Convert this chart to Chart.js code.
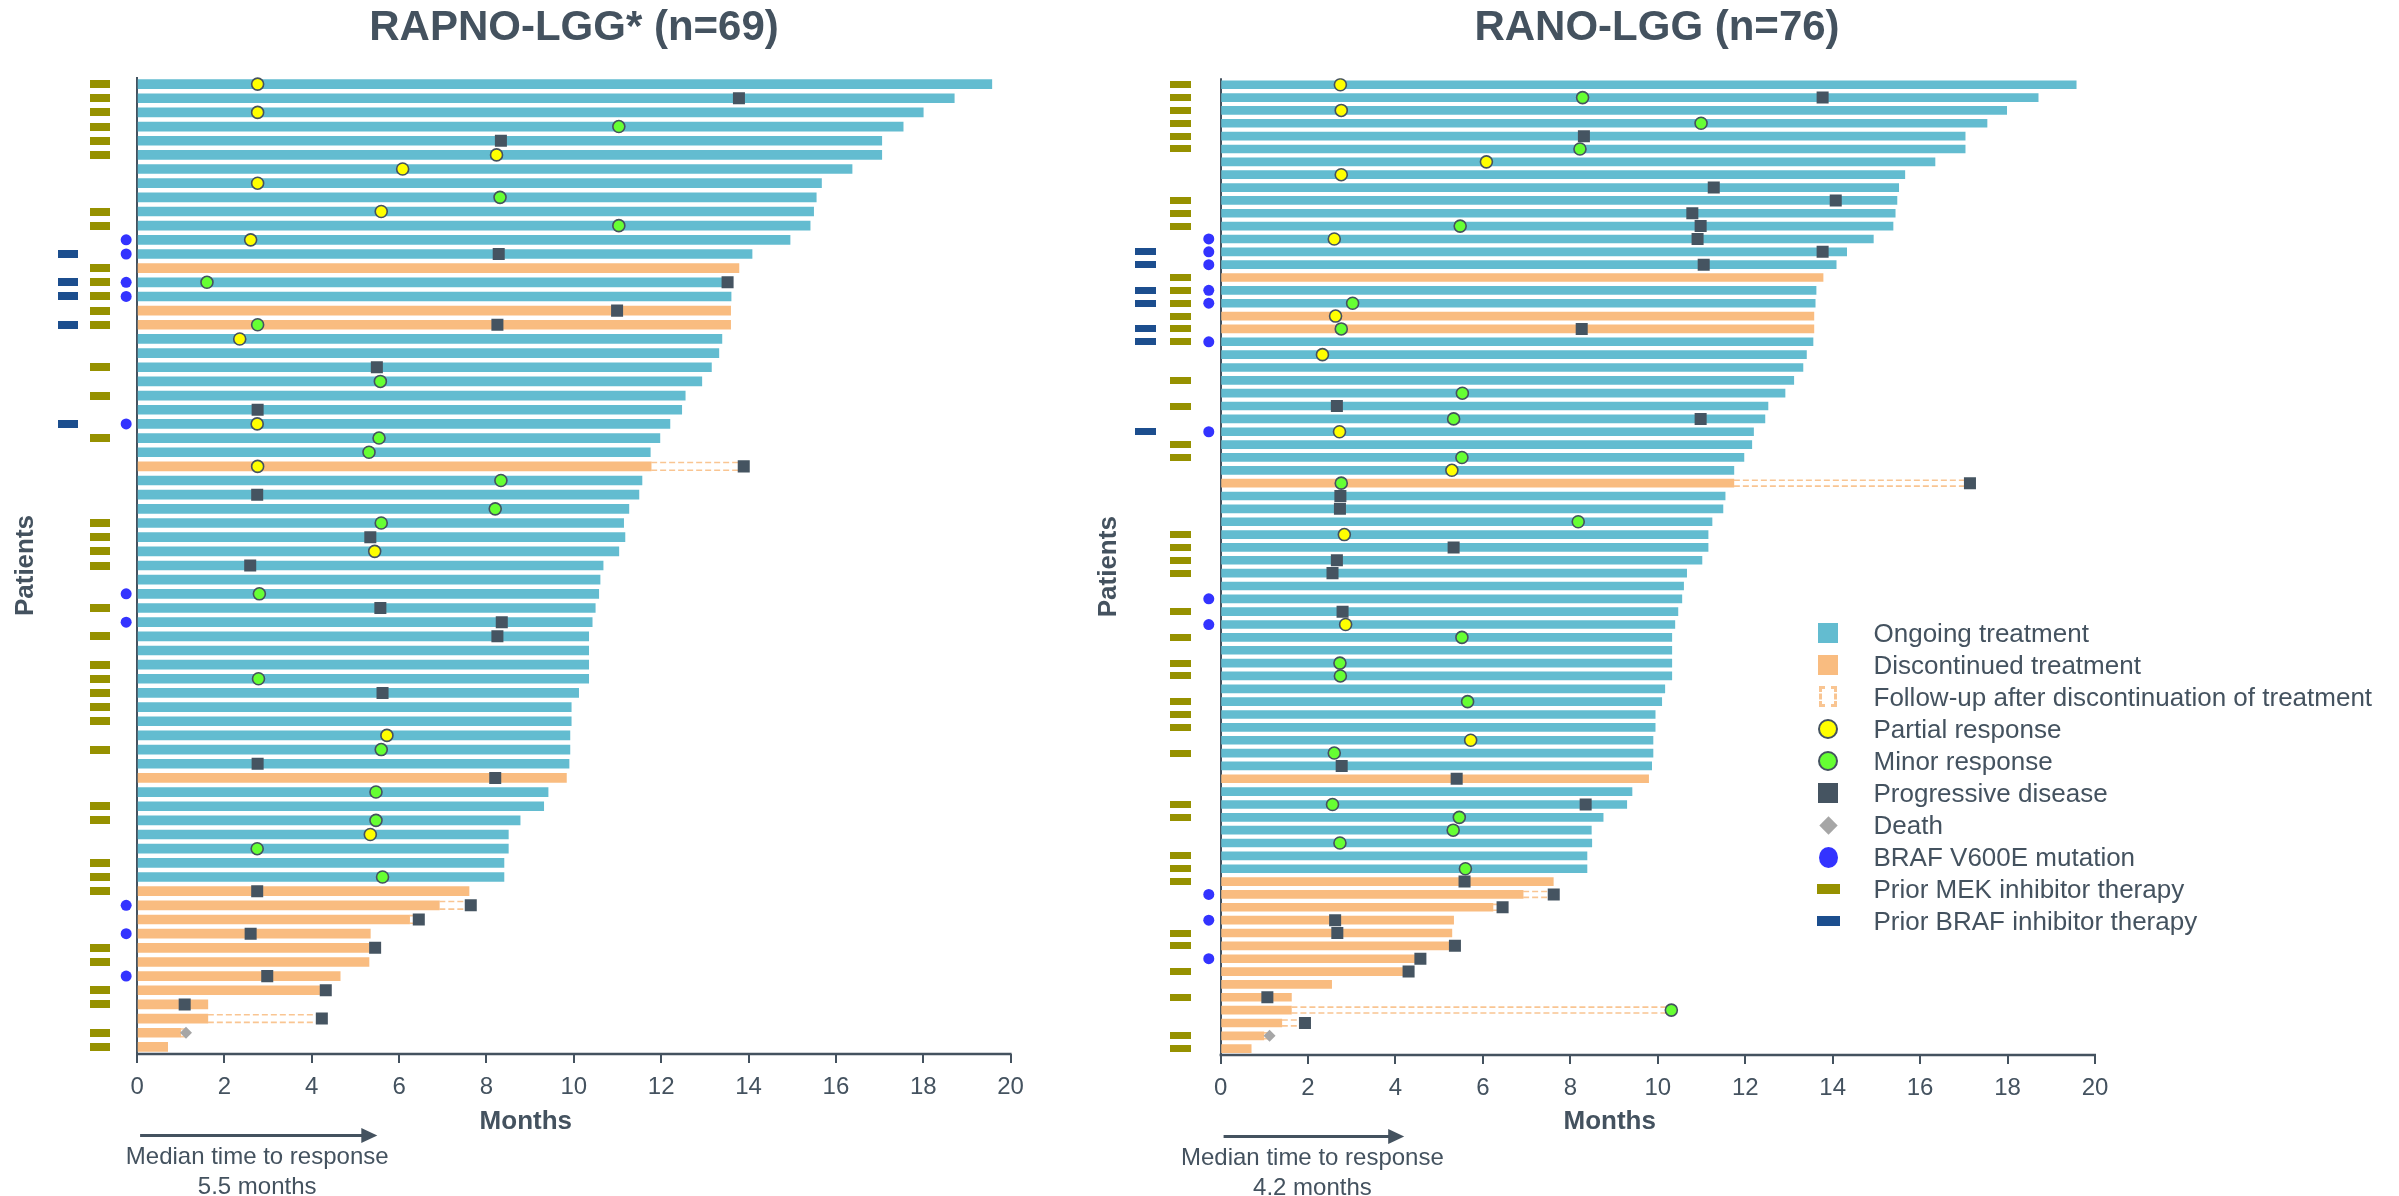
<!DOCTYPE html>
<html>
<head>
<meta charset="utf-8">
<title>Swimmer plots</title>
<script src="https://cdn.jsdelivr.net/npm/chart.js@4.4.1/dist/chart.umd.min.js"></script>
<style>
  html, body { margin: 0; padding: 0; background: #fff; }
  body { width: 2399px; height: 1196px; position: relative; overflow: hidden;
         font-family: "Liberation Sans", Arial, Helvetica, sans-serif; }
  canvas { position: absolute; top: 0; }
  #legend { position: absolute; left: 1800px; top: 617px; color: #44525f; font-size: 26px; }
  .item { position: relative; height: 32px; line-height: 32px; padding-left: 73.5px; white-space: nowrap; }
  .mk { position: absolute; box-sizing: border-box; }
</style>
</head>
<body>
<canvas id="rapno" width="1148" height="1196" style="left:0px"></canvas>
<canvas id="rano" width="1154" height="1196" style="left:1080px"></canvas>

<div id="legend">
  <div class="item"><span class="mk" style="left:18px;top:6px;width:20px;height:20px;background:#63bcd0"></span>Ongoing treatment</div>
  <div class="item"><span class="mk" style="left:18px;top:6px;width:20px;height:20px;background:#f9bc80"></span>Discontinued treatment</div>
  <div class="item"><span class="mk" style="left:19px;top:5px;width:18px;height:21px;border:3px dashed #f9c592"></span>Follow-up after discontinuation of treatment</div>
  <div class="item"><span class="mk" style="left:18px;top:6px;width:20px;height:20px;border-radius:50%;background:#ffff00;border:2px solid #44525f"></span>Partial response</div>
  <div class="item"><span class="mk" style="left:18px;top:6px;width:20px;height:20px;border-radius:50%;background:#66ff33;border:2px solid #44525f"></span>Minor response</div>
  <div class="item"><span class="mk" style="left:18px;top:6px;width:20px;height:20px;background:#455461"></span>Progressive disease</div>
  <div class="item"><span class="mk" style="left:21.5px;top:9.5px;width:13px;height:13px;background:#a6a6a6;transform:rotate(45deg)"></span>Death</div>
  <div class="item"><span class="mk" style="left:18.5px;top:5.5px;width:19px;height:21px;border-radius:50%;background:#3333ff"></span>BRAF V600E mutation</div>
  <div class="item"><span class="mk" style="left:16.5px;top:11px;width:23px;height:10px;background:#969100"></span>Prior MEK inhibitor therapy</div>
  <div class="item"><span class="mk" style="left:16.5px;top:11px;width:23px;height:10px;background:#1c4e8e"></span>Prior BRAF inhibitor therapy</div>
</div>

<script>
// ---------- data: RAPNO-LGG* (n=69) ----------
const rapnoTitle = 'RAPNO-LGG* (n=69)';
const rapnoMedian = 5.5;
// months on treatment, patient 1 at the top
const rapnoDuration = [
  19.57, 18.71, 18.00, 17.54, 17.05, 17.05, 16.37, 15.67, 15.55, 15.49,
  15.41, 14.95, 14.08, 13.78, 13.60, 13.60, 13.59, 13.59, 13.39, 13.32,
  13.15, 12.93, 12.55, 12.47, 12.20, 11.97, 11.75, 11.77, 11.56, 11.49,
  11.26, 11.14, 11.17, 11.03, 10.67, 10.60, 10.57, 10.49, 10.42, 10.34,
  10.34, 10.34, 10.34, 10.11, 9.94, 9.94, 9.91, 9.91, 9.89, 9.83,
  9.41, 9.31, 8.77, 8.50, 8.50, 8.40, 8.40, 7.60, 6.92, 6.24,
  5.34, 5.31, 5.31, 4.65, 4.18, 1.62, 1.62, 1.00, 0.70
];
// O = ongoing, D = discontinued
const rapnoStatus = [
  'O','O','O','O','O','O','O','O','O','O',
  'O','O','O','D','O','O','D','D','O','O',
  'O','O','O','O','O','O','O','D','O','O',
  'O','O','O','O','O','O','O','O','O','O',
  'O','O','O','O','O','O','O','O','O','D',
  'O','O','O','O','O','O','O','D','D','D',
  'D','D','D','D','D','D','D','D','D'
];
// [patient, month]
const rapnoPartial = [[1,2.76],[3,2.76],[6,8.23],[7,6.08],[8,2.76],[10,5.59],[12,2.60],[19,2.35],
  [25,2.75],[28,2.76],[34,5.44],[47,5.72],[54,5.34]];
const rapnoMinor = [[4,11.03],[9,8.31],[11,11.03],[15,1.60],[18,2.76],[22,5.57],[26,5.54],[27,5.31],
  [29,8.33],[31,8.20],[32,5.59],[37,2.80],[43,2.78],[48,5.59],[51,5.47],[53,5.47],[55,2.75],[57,5.62]];
const rapnoProgression = [[2,13.78],[5,8.33],[13,8.28],[15,13.52],[17,10.99],[18,8.25],[21,5.49],[24,2.76],
  [28,13.89],[30,2.75],[33,5.34],[35,2.59],[38,5.57],[39,8.35],[40,8.25],[44,5.62],[49,2.76],[50,8.20],
  [58,2.75],[59,7.64],[60,6.45],[61,2.60],[62,5.45],[64,2.98],[65,4.32],[66,1.09],[67,4.23]];
const rapnoDeath = [[68,1.12]];
// follow-up after discontinuation: [patient, end month]
const rapnoFollowUp = [[28,13.89],[59,7.64],[60,6.45],[67,4.23],[68,1.12]];
const rapnoPriorMEK = [1,2,3,4,5,6,10,11,14,15,16,17,18,21,23,26,32,33,34,35,38,40,42,43,44,45,46,48,
  52,53,56,57,58,62,63,65,66,68,69];
const rapnoPriorBRAF = [13,15,16,18,25];
const rapnoV600E = [12,13,15,16,25,37,39,59,61,64];

// ---------- data: RANO-LGG (n=76) ----------
const ranoTitle = 'RANO-LGG (n=76)';
const ranoMedian = 4.2;
const ranoDuration = [
  19.57, 18.70, 17.98, 17.53, 17.03, 17.03, 16.34, 15.65, 15.51, 15.47,
  15.43, 15.38, 14.93, 14.32, 14.08, 13.78, 13.62, 13.60, 13.57, 13.57,
  13.55, 13.40, 13.32, 13.11, 12.91, 12.52, 12.45, 12.19, 12.15, 11.97,
  11.74, 11.74, 11.54, 11.49, 11.24, 11.15, 11.15, 11.01, 10.66, 10.59,
  10.55, 10.46, 10.39, 10.32, 10.32, 10.32, 10.32, 10.16, 10.09, 9.94,
  9.94, 9.89, 9.89, 9.86, 9.79, 9.41, 9.29, 8.75, 8.48, 8.49,
  8.38, 8.38, 7.61, 6.92, 6.23, 5.33, 5.29, 5.23, 4.45, 4.17,
  2.54, 1.62, 1.62, 1.40, 0.99, 0.70
];
const ranoStatus = [
  'O','O','O','O','O','O','O','O','O','O',
  'O','O','O','O','O','D','O','O','D','D',
  'O','O','O','O','O','O','O','O','O','O',
  'O','D','O','O','O','O','O','O','O','O',
  'O','O','O','O','O','O','O','O','O','O',
  'O','O','O','O','D','O','O','O','O','O',
  'O','O','D','D','D','D','D','D','D','D',
  'D','D','D','D','D','D'
];
const ranoPartial = [[1,2.74],[3,2.76],[7,6.08],[8,2.76],[13,2.60],[19,2.63],[22,2.33],[28,2.72],
  [31,5.29],[36,2.83],[43,2.86],[52,5.72]];
const ranoMinor = [[2,8.28],[4,10.99],[6,8.22],[12,5.48],[18,3.02],[20,2.76],[25,5.53],[27,5.33],
  [30,5.52],[32,2.76],[35,8.18],[44,5.52],[46,2.73],[47,2.74],[49,5.65],[53,2.60],[57,2.56],[58,5.46],
  [59,5.32],[60,2.73],[62,5.60],[73,10.31]];
const ranoProgression = [[2,13.77],[5,8.31],[9,11.28],[10,14.07],[11,10.79],[12,10.98],[13,10.91],
  [14,13.77],[15,11.05],[20,8.26],[26,2.66],[27,10.98],[32,17.14],[33,2.74],[34,2.73],[37,5.33],
  [38,2.66],[39,2.56],[42,2.79],[54,2.77],[55,5.40],[57,8.35],[63,5.58],[64,7.62],[65,6.45],[66,2.62],
  [67,2.67],[68,5.36],[69,4.57],[70,4.30],[72,1.07],[74,1.93]];
const ranoDeath = [[75,1.12]];
const ranoFollowUp = [[32,17.14],[64,7.62],[65,6.45],[73,10.31],[74,1.93],[75,1.12]];
const ranoPriorMEK = [1,2,3,4,5,6,10,11,12,16,17,18,19,20,21,24,26,29,30,36,37,38,39,42,44,46,47,49,
  50,51,53,57,58,61,62,63,67,68,70,72,75,76];
const ranoPriorBRAF = [14,15,17,18,20,21,28];
const ranoV600E = [13,14,15,17,18,21,28,41,43,64,66,69];

const monthTicks = [0, 2, 4, 6, 8, 10, 12, 14, 16, 18, 20];

// ---------- styles ----------
const INK = '#44525f';
const ONGOING = '#63bcd0';
const STOPPED = '#f9bc80';
const FOLLOW = '#f9c592';
const PR_FILL = '#ffff00';
const MR_FILL = '#66ff33';
const PD_FILL = '#455461';
const DEATH_FILL = '#a6a6a6';
const MEK_FILL = '#969100';
const BRAFI_FILL = '#1c4e8e';
const V600E_FILL = '#3333ff';

Chart.defaults.font.family = '"Liberation Sans", Arial, Helvetica, sans-serif';
Chart.defaults.color = INK;

function boxImage(w, h, color) {
  const c = document.createElement('canvas');
  c.width = w; c.height = h;
  const g = c.getContext('2d');
  g.fillStyle = color;
  g.fillRect(0, 0, w, h);
  return c;
}

function buildChart(canvasId, p, L) {
  const n = p.duration.length;
  const bars = code => p.duration
    .map((d, i) => (p.status[i] === code ? { x: d, y: i + 1 } : null))
    .filter(Boolean);
  const marks = list => list.map(([row, m]) => ({ x: m, y: row }));
  const flags = (rows, col) => rows.map(r => ({ x: col, y: r }));

  const dashes = [];
  p.followUp.forEach(([row, end]) => {
    const start = p.duration[row - 1];
    [-L.dashOffset, L.dashOffset].forEach(off => dashes.push({
      type: 'line',
      data: [{ x: start, y: row + off }, { x: end, y: row + off }],
      borderColor: FOLLOW, borderWidth: 1.6, borderDash: [6, 3],
      pointRadius: 0, pointHoverRadius: 0, fill: false, order: 1
    }));
  });

  const scatter = (data, style) => Object.assign({
    type: 'scatter', data, order: 0, borderWidth: 0
  }, style, { pointHoverRadius: style.pointRadius, hoverBorderWidth: style.pointBorderWidth || 0 });

  const datasets = [
    scatter(marks(p.pd), { pointStyle: 'rect', pointRadius: 8.5, backgroundColor: PD_FILL, pointBorderWidth: 0 }),
    scatter(marks(p.pr), { pointStyle: 'circle', pointRadius: 6, backgroundColor: PR_FILL, borderColor: INK, pointBorderWidth: 1.6, borderWidth: 1.6 }),
    scatter(marks(p.mr), { pointStyle: 'circle', pointRadius: 6, backgroundColor: MR_FILL, borderColor: INK, pointBorderWidth: 1.6, borderWidth: 1.6 }),
    scatter(marks(p.death), { pointStyle: 'rectRot', pointRadius: 6, backgroundColor: DEATH_FILL, pointBorderWidth: 0 }),
    scatter(flags(p.mek, L.flagCols.mek), { pointStyle: boxImage(L.flagSize[0], L.flagSize[1], MEK_FILL), pointRadius: 5 }),
    scatter(flags(p.brafi, L.flagCols.brafi), { pointStyle: boxImage(L.flagSize[0], L.flagSize[1], BRAFI_FILL), pointRadius: 5 }),
    scatter(flags(p.v600e, L.flagCols.v600e), { pointStyle: 'circle', pointRadius: 5.5, backgroundColor: V600E_FILL, pointBorderWidth: 0 }),
    ...dashes,
    { type: 'bar', indexAxis: 'y', data: bars('O'), backgroundColor: ONGOING,
      barThickness: L.barThickness, grouped: false, order: 2 },
    { type: 'bar', indexAxis: 'y', data: bars('D'), backgroundColor: STOPPED,
      barThickness: L.barThickness, grouped: false, order: 2 }
  ];

  const axisAndMedian = {
    id: 'axisAndMedian',
    afterDraw(chart) {
      const { ctx, chartArea, scales: { x } } = chart;
      const x0 = x.getPixelForValue(monthTicks[0]);
      const xEnd = x.getPixelForValue(monthTicks[monthTicks.length - 1]);
      ctx.save();
      ctx.strokeStyle = INK;
      ctx.fillStyle = INK;
      ctx.lineWidth = 2.5;
      ctx.beginPath();
      ctx.moveTo(x0 - 1, chartArea.bottom);
      ctx.lineTo(xEnd + 1, chartArea.bottom);
      ctx.stroke();

      const xm = x.getPixelForValue(p.median);
      const ya = chartArea.bottom + 81.5;
      ctx.lineWidth = 3;
      ctx.beginPath();
      ctx.moveTo(x0 + 3, ya);
      ctx.lineTo(xm - 12, ya);
      ctx.stroke();
      ctx.beginPath();
      ctx.moveTo(xm, ya);
      ctx.lineTo(xm - 16, ya - 7.5);
      ctx.lineTo(xm - 16, ya + 7.5);
      ctx.closePath();
      ctx.fill();

      ctx.font = '24px "Liberation Sans", Arial, sans-serif';
      ctx.textAlign = 'center';
      ctx.textBaseline = 'middle';
      const cx = (x0 + xm) / 2;
      ctx.fillText('Median time to response', cx, ya + 22);
      ctx.fillText(p.median + ' months', cx, ya + 52);
      ctx.restore();
    }
  };

  return new Chart(document.getElementById(canvasId), {
    type: 'bar',
    data: { datasets },
    plugins: [axisAndMedian],
    options: {
      responsive: false,
      animation: false,
      events: [],
      layout: { padding: 0 },
      plugins: {
        legend: { display: false },
        tooltip: { enabled: false },
        title: {
          display: true, text: p.title, color: INK,
          font: { size: 42, weight: 'bold' },
          padding: { top: 3, bottom: L.titlePadBottom }
        }
      },
      scales: {
        x: {
          type: 'linear', min: L.xMin, max: 20, z: 1, offset: false,
          afterBuildTicks: s => { s.ticks = monthTicks.map(v => ({ value: v })); },
          afterFit: s => { s.height = 1196 - L.chartBottom; },
          border: { display: false },
          grid: {
            offset: false, drawOnChartArea: true, drawTicks: true,
            tickLength: 9, tickWidth: 2, tickColor: INK, lineWidth: 2,
            color: c => (c.tick && c.tick.value === 0 ? INK : 'rgba(0,0,0,0)')
          },
          ticks: { color: INK, font: { size: 24 }, padding: 10, maxRotation: 0 },
          title: {
            display: true, text: 'Months', color: INK,
            font: { size: 26, weight: 'bold' },
            padding: { top: 0, bottom: 58.5 }
          }
        },
        y: {
          type: 'linear', reverse: true, min: 0.5, max: n + 0.5, offset: false,
          afterFit: s => { s.width = L.yAxisWidth; },
          border: { display: false },
          grid: { display: false, offset: false },
          ticks: { display: false },
          title: {
            display: true, text: 'Patients', color: INK,
            font: { size: 26, weight: 'bold' },
            padding: { top: L.patientsPad, bottom: 0 }
          }
        },
        // empty right-hand axis: keeps space right of the plot so the title centres over it
        yRight: {
          type: 'linear', position: 'right', offset: false,
          afterFit: s => { s.width = L.rightSpace; },
          border: { display: false },
          grid: { display: false },
          ticks: { display: false }
        }
      }
    }
  });
}

buildChart('rapno', {
  title: rapnoTitle, median: rapnoMedian, duration: rapnoDuration, status: rapnoStatus,
  pr: rapnoPartial, mr: rapnoMinor, pd: rapnoProgression, death: rapnoDeath,
  followUp: rapnoFollowUp, mek: rapnoPriorMEK, brafi: rapnoPriorBRAF, v600e: rapnoV600E
}, {
  xMin: -2.2, yAxisWidth: 41, rightSpace: 137.4, chartBottom: 1054, titlePadBottom: 23.6,
  patientsPad: 10.4, barThickness: 9, dashOffset: 0.27,
  flagCols: { brafi: -1.58, mek: -0.85, v600e: -0.25 }, flagSize: [20, 8]
});

buildChart('rano', {
  title: ranoTitle, median: ranoMedian, duration: ranoDuration, status: ranoStatus,
  pr: ranoPartial, mr: ranoMinor, pd: ranoProgression, death: ranoDeath,
  followUp: ranoFollowUp, mek: ranoPriorMEK, brafi: ranoPriorBRAF, v600e: ranoV600E
}, {
  xMin: -2.2, yAxisWidth: 44.4, rightSpace: 139, chartBottom: 1055.1, titlePadBottom: 24.9,
  patientsPad: 13.4, barThickness: 8, dashOffset: 0.23,
  flagCols: { brafi: -1.72, mek: -0.91, v600e: -0.27 }, flagSize: [21, 7]
});
</script>
</body>
</html>
